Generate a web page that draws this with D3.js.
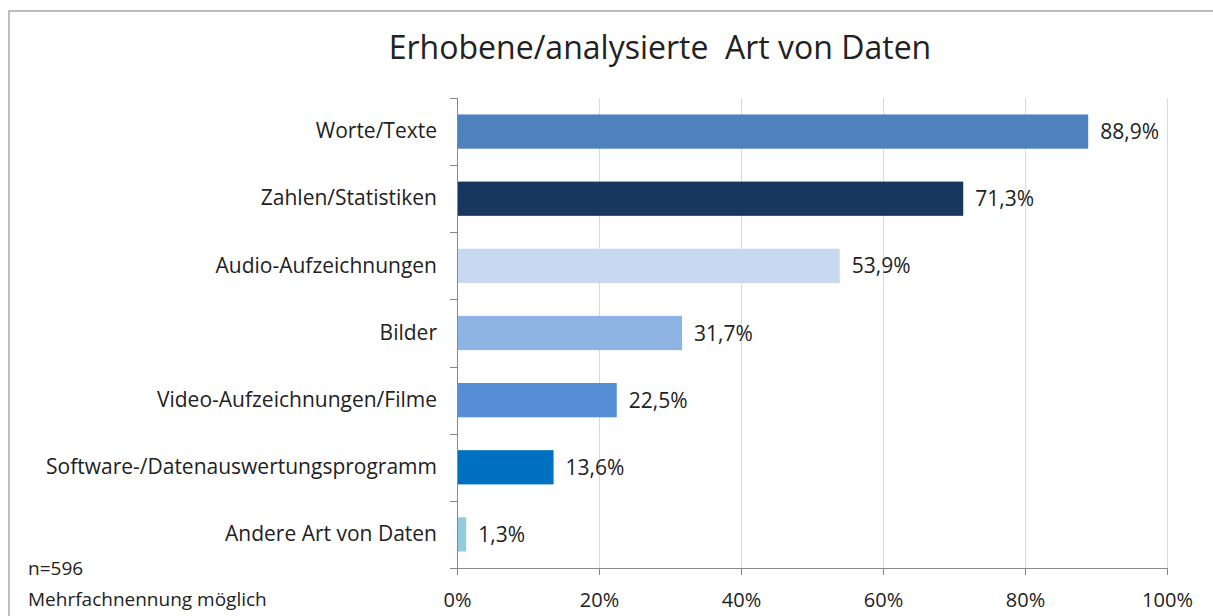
<!DOCTYPE html>
<html><head><meta charset="utf-8">
<script src="https://cdn.jsdelivr.net/npm/d3@7"></script>
<style>body{margin:0;background:#fff}svg{display:block}text{font-family:"Open Sans","Liberation Sans",sans-serif;fill:#222}</style>
</head><body>
<svg id="c" width="1213" height="616"></svg>
<script>
const categories = ["Worte/Texte","Zahlen/Statistiken","Audio-Aufzeichnungen","Bilder","Video-Aufzeichnungen/Filme","Software-/Datenauswertungsprogramm","Andere Art von Daten"];
const values = [88.9,71.3,53.9,31.7,22.5,13.6,1.3];
const colors = ["#4F81BD","#17375E","#C6D9F1","#8DB4E2","#558ED5","#0070C0","#93CDDD"];
const xTicks = [0,20,40,60,80,100];
const title = "Erhobene/analysierte  Art von Daten";
const notes = ["n=596","Mehrfachnennung möglich"];

const FONT = '"Open Sans","Liberation Sans",sans-serif';
const svg = d3.select("#c");
svg.append("rect").attr("x",0).attr("y",0).attr("width",1213).attr("height",616).attr("fill","#fff");
svg.append("path").attr("d","M9,616V11H1213").attr("fill","none").attr("stroke","#BDBDBD").attr("stroke-width",2);

const x = d3.scaleLinear().domain([0,100]).range([457,1167]);
const y = d3.scaleBand().domain(categories).range([98,568]).paddingInner(0.49).paddingOuter(0.245);

svg.append("text").attr("x",660).attr("y",59).attr("text-anchor","middle")
  .style("font-size","32px").style("white-space","pre").text(title);

// gridlines
svg.append("g").selectAll("line").data(xTicks.slice(1)).join("line")
  .attr("x1",d=>x(d)+0.5).attr("x2",d=>x(d)+0.5).attr("y1",98).attr("y2",568)
  .attr("stroke","#D9D9D9").attr("stroke-width",1);

// bars
svg.append("g").selectAll("rect").data(categories).join("rect")
  .attr("x",x(0)).attr("y",d=>y(d)).attr("height",y.bandwidth())
  .attr("width",(d,i)=>x(values[i])-x(0)).attr("fill",(d,i)=>colors[i]);

// value labels
svg.append("g").selectAll("text").data(categories).join("text")
  .attr("x",(d,i)=>x(values[i])+12).attr("y",d=>y(d)+y.bandwidth()/2).attr("dy","0.36em")
  .style("font-size","21px").text((d,i)=>d3.format(".1f")(values[i]).replace(".",",")+"%");

// x axis
const xAxis = d3.axisBottom(x).tickValues(xTicks).tickFormat(d=>d+"%").tickSize(7).tickPadding(18);
const gx = svg.append("g").attr("transform","translate(0,568)").call(xAxis);
gx.select(".domain").attr("stroke","#888").attr("d","M457.5,0.5H1167.5");
gx.selectAll(".tick line").attr("stroke","#888");
gx.selectAll("text").style("font-size","20px").attr("fill","#222").style("font-family",FONT);

// y axis
const yAxis = d3.axisLeft(y).tickSize(0).tickPadding(20);
const gy = svg.append("g").attr("transform","translate(457,0)").call(yAxis);
gy.select(".domain").attr("stroke","#888").attr("d","M0.5,98V575");
gy.selectAll("text").style("font-size","21px").attr("fill","#222").style("font-family",FONT);
// band boundary ticks
const bounds = d3.range(categories.length+1).map(i=>98+i*(470/categories.length));
svg.append("g").selectAll("line").data(bounds).join("line")
  .attr("x1",450).attr("x2",457).attr("y1",d=>Math.round(d)+0.5).attr("y2",d=>Math.round(d)+0.5)
  .attr("stroke","#888");

svg.append("g").selectAll("text").data(notes).join("text")
  .attr("x",28).attr("y",(d,i)=>575+i*31).style("font-size","19px").text(d=>d);
</script>
</body></html>
